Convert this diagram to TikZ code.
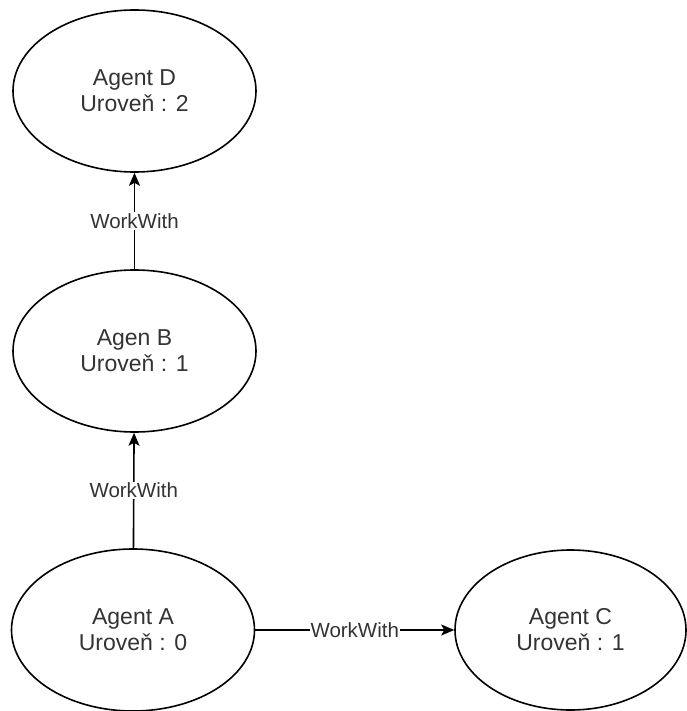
\documentclass[tikz,border=0pt]{standalone}
\usepackage{fontspec}
\setmainfont{Liberation Sans}
\usetikzlibrary{shapes.geometric,arrows.meta}
\definecolor{txt}{HTML}{333333}
\tikzset{
  agent/.style={draw=black, line width=1.6pt, ellipse, inner sep=0pt,
    minimum width=243pt, minimum height=162pt, align=center, text=txt,
    font=\fontsize{23}{26}\selectfont},
  rel/.style={draw=black, line width=1.6pt, -{Stealth[length=13pt,width=11pt,inset=3pt]}},
  rellabel/.style={fill=white, inner sep=1pt, text=txt, font=\fontsize{20.5}{22}\selectfont}
}
\begin{document}
\begin{tikzpicture}[x=1pt,y=-1pt]
\useasboundingbox (0,0) rectangle (686,711);
\node[agent] (D) at (134.5,91) {Agent D\\Uroveň : 2};
\node[agent] (B) at (134.5,351) {Agen B\\Uroveň : 1};
\node[agent] (A) at (133,630) {Agent A\\Uroveň : 0};
\node[agent, minimum width=231pt, minimum height=160pt] (C) at (570.5,630) {Agent C\\Uroveň : 1};
\draw[rel] (B) -- node[rellabel] {WorkWith} (D);
\draw[rel] (A) -- node[rellabel] {WorkWith} (B);
\draw[rel] (A) -- node[rellabel] {WorkWith} (C);
\end{tikzpicture}
\end{document}
